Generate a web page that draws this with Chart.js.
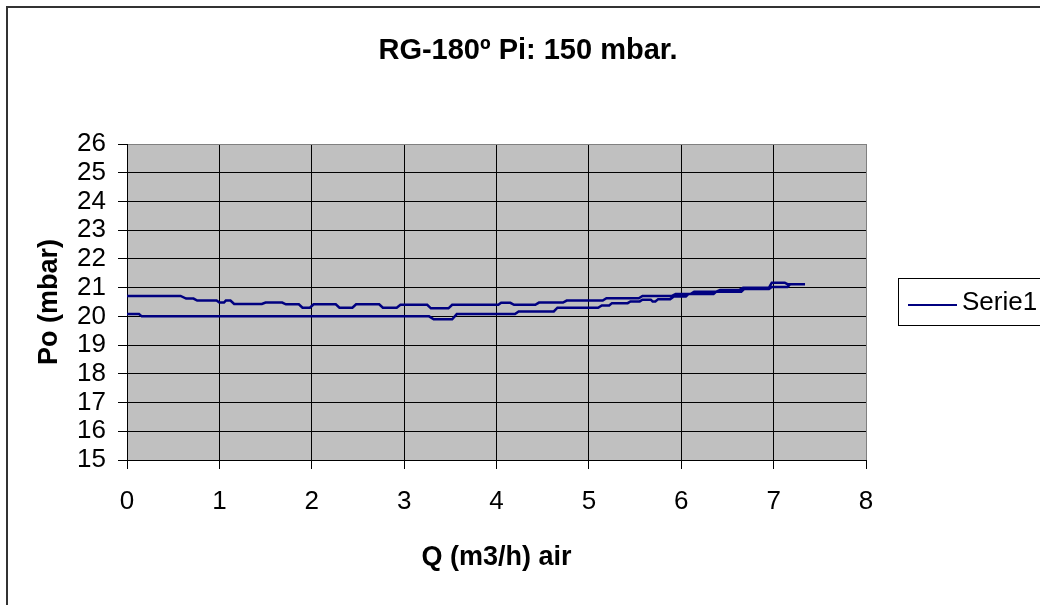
<!DOCTYPE html>
<html>
<head>
<meta charset="utf-8">
<script src="https://cdn.jsdelivr.net/npm/chart.js@4.4.1/dist/chart.umd.min.js"></script>
<style>
  html, body { margin: 0; padding: 0; background: #fff; overflow: hidden; }
  #wrap { width: 1040px; height: 605px; }
</style>
</head>
<body>
<div id="wrap"><canvas id="chart" width="1040" height="605"></canvas></div>
<script>
const chartTitle = "RG-180º Pi: 150 mbar.";
const xTitle = "Q (m3/h) air";
const yTitle = "Po (mbar)";
const seriesName = "Serie1";

// flow going up (lower branch)
const riseQ = [0, 0.13, 0.16, 3.27, 3.32, 3.52, 3.57, 4.2, 4.24, 4.62, 4.66, 5.1, 5.14, 5.22,
  5.25, 5.42, 5.45, 5.55, 5.58, 5.67, 5.69, 5.72, 5.75, 5.88, 5.92, 6.05, 6.08, 6.35, 6.38,
  6.65, 6.68, 6.95, 6.98, 7.15, 7.18, 7.34];
const risePo = [20.08, 20.08, 20.0, 20.0, 19.9, 19.9, 20.08, 20.08, 20.17, 20.17, 20.3, 20.3,
  20.38, 20.38, 20.46, 20.46, 20.52, 20.52, 20.58, 20.58, 20.52, 20.52, 20.6, 20.6, 20.69,
  20.69, 20.78, 20.78, 20.86, 20.86, 20.95, 20.95, 21.02, 21.02, 21.12, 21.12];

// flow coming back down (upper branch)
const fallQ = [7.34, 7.15, 7.12, 6.98, 6.95, 6.67, 6.63, 6.42, 6.38, 6.14, 6.1, 5.94, 5.9, 5.58,
  5.54, 5.19, 5.15, 4.76, 4.72, 4.46, 4.42, 4.19, 4.15, 4.05, 4.02, 3.52, 3.48, 3.29, 3.25,
  2.96, 2.92, 2.77, 2.73, 2.48, 2.44, 2.3, 2.26, 2.02, 1.98, 1.9, 1.86, 1.72, 1.68, 1.5, 1.46,
  1.16, 1.12, 1.07, 1.05, 1.0, 0.97, 0.76, 0.72, 0.64, 0.58, 0];
const fallPo = [21.12, 21.12, 21.17, 21.17, 21.0, 21.0, 20.92, 20.92, 20.86, 20.86, 20.78, 20.78,
  20.71, 20.71, 20.63, 20.63, 20.55, 20.55, 20.48, 20.48, 20.4, 20.4, 20.47, 20.47, 20.4, 20.4,
  20.28, 20.28, 20.4, 20.4, 20.3, 20.3, 20.42, 20.42, 20.3, 20.3, 20.42, 20.42, 20.3, 20.3,
  20.42, 20.42, 20.48, 20.48, 20.43, 20.43, 20.55, 20.55, 20.48, 20.48, 20.55, 20.55, 20.62,
  20.62, 20.71, 20.71];

const FONT = '"Liberation Sans", Arial, sans-serif';
const LINE_COLOR = "#000080";

const points = riseQ.map((q, i) => ({ x: q, y: risePo[i] }))
  .concat(fallQ.map((q, i) => ({ x: q, y: fallPo[i] })));

// excel-ish frame: grey plot area, titles, boxed legend
const excelDecor = {
  id: "excelDecor",
  beforeDraw(chart) {
    const { ctx, chartArea: a } = chart;
    ctx.save();
    ctx.fillStyle = "#c0c0c0";
    ctx.fillRect(a.left, a.top, a.right - a.left, a.bottom - a.top);
    ctx.restore();
  },
  afterDraw(chart) {
    const { ctx, chartArea: a } = chart;
    ctx.save();
    ctx.strokeStyle = "#333";
    ctx.lineWidth = 2;
    ctx.beginPath();
    ctx.moveTo(7, 605);
    ctx.lineTo(7, 7);
    ctx.lineTo(1040, 7);
    ctx.stroke();

    ctx.fillStyle = "#000";
    ctx.textAlign = "center";
    ctx.textBaseline = "middle";
    ctx.font = "bold 29px " + FONT;
    ctx.fillText(chartTitle, 528, 51);
    ctx.font = "bold 27px " + FONT;
    ctx.fillText(xTitle, (a.left + a.right) / 2, 558);
    ctx.save();
    ctx.translate(50, (a.top + a.bottom) / 2);
    ctx.rotate(-Math.PI / 2);
    ctx.fillText(yTitle, 0, 0);
    ctx.restore();

    // legend
    ctx.strokeStyle = "#000";
    ctx.lineWidth = 1;
    ctx.strokeRect(898.5, 278.5, 200, 47);
    ctx.strokeStyle = LINE_COLOR;
    ctx.lineWidth = 2;
    ctx.beginPath();
    ctx.moveTo(908, 305);
    ctx.lineTo(957, 305);
    ctx.stroke();
    ctx.textAlign = "left";
    ctx.font = "26px " + FONT;
    ctx.fillText(seriesName, 962, 303);
    ctx.restore();
  }
};

const tickFont = { family: FONT, size: 26 };

new Chart(document.getElementById("chart"), {
  type: "scatter",
  data: {
    datasets: [{
      label: seriesName,
      data: points,
      showLine: true,
      borderColor: LINE_COLOR,
      borderWidth: 2.5,
      pointRadius: 0,
      tension: 0,
      fill: false
    }]
  },
  options: {
    responsive: false,
    animation: false,
    devicePixelRatio: 1,
    layout: { padding: { top: 144, right: 174, left: 0, bottom: 0 } },
    plugins: {
      legend: { display: false },
      title: { display: false },
      tooltip: { enabled: false }
    },
    scales: {
      x: {
        type: "linear",
        min: 0,
        max: 8,
        ticks: { stepSize: 1, autoSkip: false, maxRotation: 0, color: "#000", font: tickFont, padding: 17 },
        grid: {
          color: (c) => (c.tick && c.tick.value === 8 ? "#808080" : "#000"),
          tickColor: "#000",
          tickLength: 9,
          lineWidth: 1
        },
        border: { color: "#000", width: 1 },
        afterFit: (s) => { s.height = 145; }
      },
      y: {
        type: "linear",
        min: 15,
        max: 26,
        ticks: { stepSize: 1, autoSkip: false, color: "#000", font: tickFont, padding: 12 },
        grid: {
          color: (c) => (c.tick && c.tick.value === 26 ? "#808080" : "#000"),
          tickColor: "#000",
          tickLength: 9,
          lineWidth: 1
        },
        border: { color: "#000", width: 1 },
        afterFit: (s) => { s.width = 127; }
      }
    }
  },
  plugins: [excelDecor]
});
</script>
</body>
</html>
